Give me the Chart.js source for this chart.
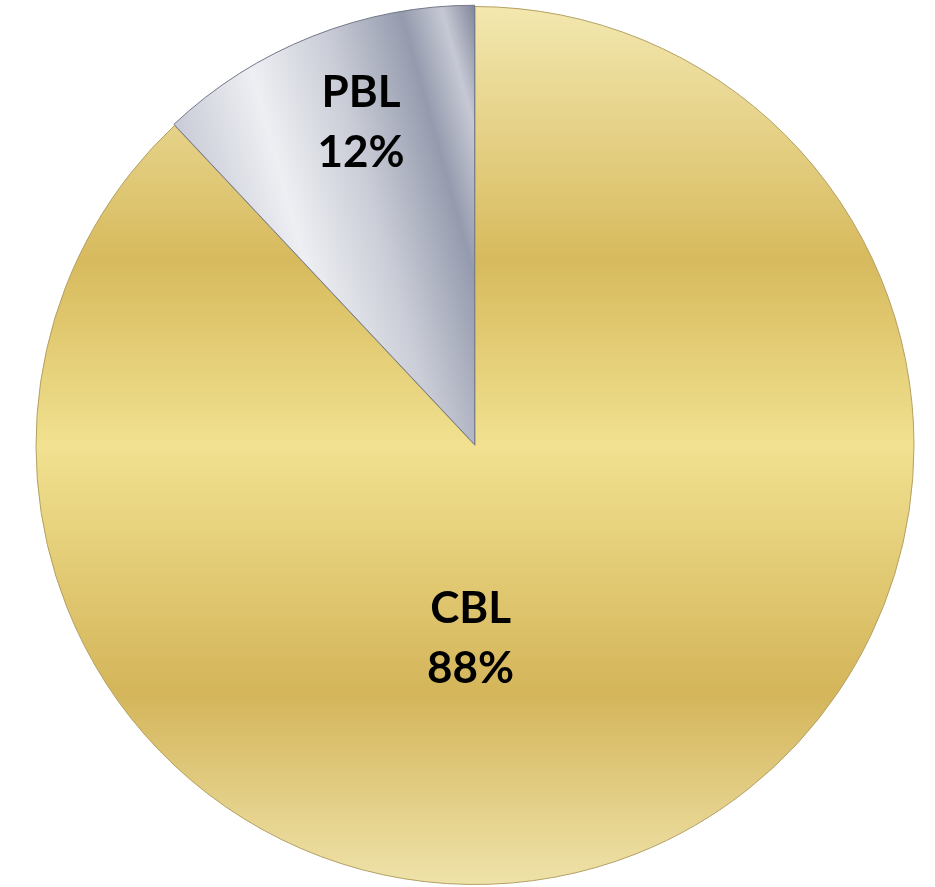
<!DOCTYPE html>
<html lang="en">
<head>
    <meta charset="UTF-8" />
    <title>CBL vs PBL</title>
    <script src="https://cdn.jsdelivr.net/npm/chart.js"></script>
    <style>
        body {
            margin: 0;
            background: #ffffff;
        }

        .wrap {
            width: 935px;
            height: 887px;
        }
    </style>
</head>
<body>
    <div class="wrap">
        <canvas id="pieChart" width="935" height="887"></canvas>
    </div>

    <script>
        // data
        const categories = ['CBL', 'PBL'];
        const shares = [88, 12];
        const percentLabels = ['88%', '12%'];

        // gold: horizontal bands, top to bottom
        function goldFill(chart) {
            const area = chart.chartArea;
            const g = chart.ctx.createLinearGradient(0, area.top, 0, area.bottom);
            g.addColorStop(0.00, '#f3e8b0');
            g.addColorStop(0.29, '#d7ba5d');
            g.addColorStop(0.50, '#f1e190');
            g.addColorStop(0.78, '#d4b55a');
            g.addColorStop(1.00, '#efe3aa');
            return g;
        }

        // silver: bands running across the slice
        function silverFill(chart) {
            const area = chart.chartArea;
            const cx = (area.left + area.right) / 2;
            const r = (area.right - area.left) / 2;
            const g = chart.ctx.createLinearGradient(cx - r * 0.72, area.top + r * 0.2, cx, area.top);
            g.addColorStop(0.00, '#c4c7d3');
            g.addColorStop(0.30, '#eeeff3');
            g.addColorStop(0.55, '#c9ccd6');
            g.addColorStop(0.78, '#959bae');
            g.addColorStop(0.90, '#c6c9d4');
            g.addColorStop(1.00, '#7f8599');
            return g;
        }

        function sliceFill(ctx) {
            if (!ctx.chart.chartArea) return ctx.dataIndex === 0 ? '#e3cc74' : '#c0c3ce';
            return ctx.dataIndex === 0 ? goldFill(ctx.chart) : silverFill(ctx.chart);
        }

        const labelPlugin = {
            id: 'sliceLabels',
            afterDatasetsDraw(chart) {
                const ctx = chart.ctx;
                const arcs = chart.getDatasetMeta(0).data;
                ctx.save();
                ctx.fillStyle = '#000000';
                ctx.font = 'bold 44px Lato, "Open Sans", sans-serif';
                ctx.textAlign = 'center';
                ctx.textBaseline = 'middle';
                arcs.forEach((arc, i) => {
                    const p = arc.getProps(['x', 'y', 'startAngle', 'endAngle', 'outerRadius']);
                    let lx, ly;
                    if (i === 0) {
                        // big slice: label sits below the centre
                        lx = p.x - p.outerRadius * 0.01;
                        ly = p.y + p.outerRadius * 0.44;
                    } else {
                        const mid = p.startAngle + (p.endAngle - p.startAngle) * 0.55;
                        lx = p.x + Math.cos(mid) * p.outerRadius * 0.78;
                        ly = p.y + Math.sin(mid) * p.outerRadius * 0.78;
                    }
                    ctx.fillText(categories[i], lx, ly - 30);
                    ctx.fillText(percentLabels[i], lx, ly + 30);
                });
                ctx.restore();
            }
        };

        new Chart(document.getElementById('pieChart'), {
            type: 'pie',
            data: {
                labels: categories,
                datasets: [{
                    data: shares,
                    backgroundColor: sliceFill,
                    borderColor: ['#b3a063', '#737889'],
                    borderWidth: 1,
                    offset: [0, 4]
                }]
            },
            options: {
                responsive: false,
                animation: false,
                layout: {
                    padding: { top: 4, bottom: 0, left: 30, right: 15 }
                },
                plugins: {
                    legend: { display: false },
                    tooltip: { enabled: false }
                }
            },
            plugins: [labelPlugin]
        });
    </script>
</body>
</html>
